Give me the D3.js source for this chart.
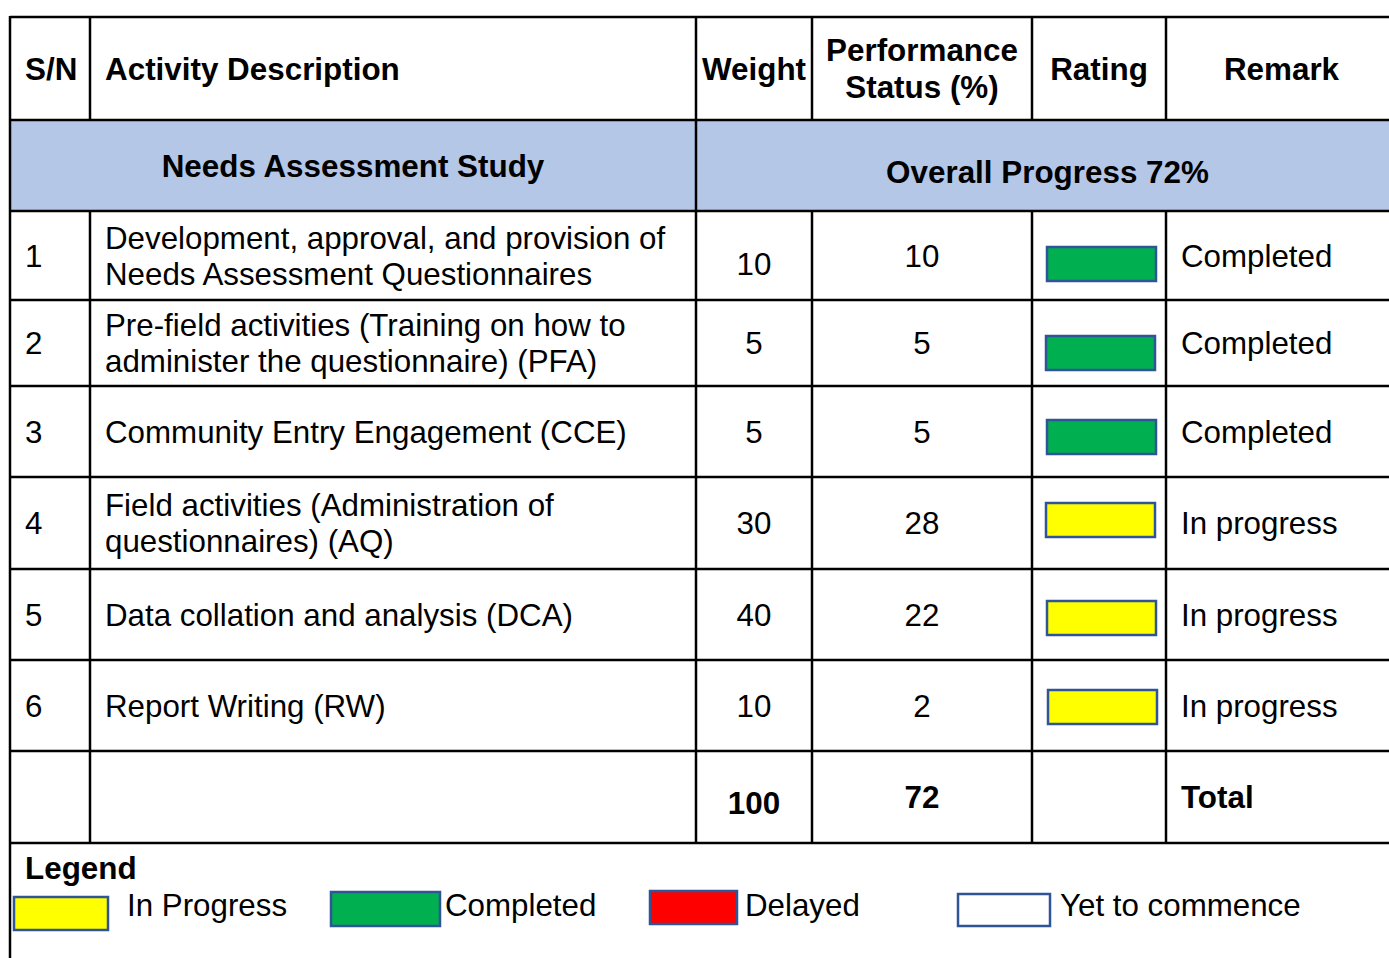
<!DOCTYPE html>
<html>
<head>
<meta charset="utf-8">
<script src="https://cdn.jsdelivr.net/npm/d3@7"></script>
<style>
  body { margin: 0; background: #fff; }
  text { font-family: "Liberation Sans", Arial, sans-serif; fill: #000; }
</style>
</head>
<body>
<div id="chart"></div>
<script>
// table content
const headers = [["S/N"], ["Activity Description"], ["Weight"], ["Performance", "Status (%)"], ["Rating"], ["Remark"]];
const sectionTitle = "Needs Assessment Study";
const serialNos = ["1", "2", "3", "4", "5", "6"];
const activities = [
  ["Development, approval, and provision of", "Needs Assessment Questionnaires"],
  ["Pre-field activities (Training on how to", "administer the questionnaire) (PFA)"],
  ["Community Entry Engagement (CCE)"],
  ["Field activities (Administration of", "questionnaires) (AQ)"],
  ["Data collation and analysis (DCA)"],
  ["Report Writing (RW)"]
];
const weights = [10, 5, 5, 30, 40, 10];
const performance = [10, 5, 5, 28, 22, 2];
const statuses = ["Completed", "Completed", "Completed", "In Progress", "In Progress", "In Progress"];
const remarks = ["Completed", "Completed", "Completed", "In progress", "In progress", "In progress"];
const legendKeys = ["In Progress", "Completed", "Delayed", "Yet to commence"];
const legendColors = ["#ffff00", "#00b050", "#ff0000", "#ffffff"];

const W = 1389, H = 958;
// layout: column and row edges
const colEdges = [10, 90, 696, 812, 1032, 1166, 1399];
const rowEdges = [17, 120, 211, 300, 386, 477, 569, 660, 751, 843];
// rating boxes sit a little off the row centre in the original
const ratingShift = [8.5, 10, 5.5, -3, 3.5, 1.5];
const ratingX = [1047, 1046, 1047, 1046, 1047, 1048];
const fs = 31.3;
const fsb = 31.4;

const color = d3.scaleOrdinal(legendKeys, legendColors);
const rowCenter = i => (rowEdges[i] + rowEdges[i + 1]) / 2;
const colCenter = j => (colEdges[j] + colEdges[j + 1]) / 2;

const svg = d3.select('#chart').append('svg')
  .attr('width', W)
  .attr('height', H);

// section band
svg.append('rect')
  .attr('x', colEdges[0]).attr('y', rowEdges[1])
  .attr('width', colEdges[6] - colEdges[0]).attr('height', rowEdges[2] - rowEdges[1])
  .attr('fill', '#b4c7e7');

// header
headers.forEach((h, j) => {
  const t = svg.append('text')
    .attr('font-size', fsb).attr('font-weight', 'bold')
    .attr('text-anchor', j === 0 || j === 1 ? 'start' : 'middle');
  const x = j === 0 ? 25 : j === 1 ? 105 : colCenter(j) + (j === 5 ? -1 : 0);
  h.forEach((line, k) => {
    t.append('tspan')
      .attr('x', x)
      .attr('y', rowCenter(0) + (k - (h.length - 1) / 2) * 37 + 11)
      .text(line);
  });
});

svg.append('text')
  .attr('x', (colEdges[0] + colEdges[2]) / 2).attr('y', 166 + 11)
  .attr('text-anchor', 'middle').attr('font-size', fsb).attr('font-weight', 'bold')
  .text(sectionTitle);

svg.append('text')
  .attr('x', (colEdges[2] + colEdges[6]) / 2).attr('y', 172 + 11)
  .attr('text-anchor', 'middle').attr('font-size', fsb).attr('font-weight', 'bold')
  .text(`Overall Progress ${d3.sum(performance)}%`);

// data rows
const rows = svg.selectAll('.row')
  .data(serialNos.map((s, i) => ({ s, act: activities[i], w: weights[i], p: performance[i], st: statuses[i], r: remarks[i], i })))
  .join('g')
  .attr('class', 'row');

rows.each(function (d) {
  const g = d3.select(this);
  const cy = rowCenter(d.i + 2);
  g.append('text').attr('x', 25).attr('y', cy + 11).attr('font-size', fs).text(d.s);
  const t = g.append('text').attr('font-size', fs);
  d.act.forEach((line, k) => {
    t.append('tspan')
      .attr('x', 105)
      .attr('y', cy + (k - (d.act.length - 1) / 2) * 36 + 11)
      .text(line);
  });
  g.append('text').attr('x', colCenter(2)).attr('y', cy + 11 + (d.i === 0 ? 8 : 0))
    .attr('text-anchor', 'middle').attr('font-size', fs).text(d.w);
  g.append('text').attr('x', colCenter(3)).attr('y', cy + 11)
    .attr('text-anchor', 'middle').attr('font-size', fs).text(d.p);
  g.append('rect')
    .attr('x', ratingX[d.i]).attr('y', cy + ratingShift[d.i] - 17)
    .attr('width', 109).attr('height', 34)
    .attr('fill', color(d.st))
    .attr('stroke', '#2f5597').attr('stroke-width', 2.5);
  g.append('text').attr('x', 1181).attr('y', cy + 11).attr('font-size', fs).text(d.r);
});

// totals
const ty = rowCenter(8);
svg.append('text').attr('x', colCenter(2)).attr('y', ty + 6 + 11)
  .attr('text-anchor', 'middle').attr('font-size', fsb).attr('font-weight', 'bold')
  .text(d3.sum(weights));
svg.append('text').attr('x', colCenter(3)).attr('y', ty + 11)
  .attr('text-anchor', 'middle').attr('font-size', fsb).attr('font-weight', 'bold')
  .text(d3.sum(performance));
svg.append('text').attr('x', 1181).attr('y', ty + 11)
  .attr('font-size', fsb).attr('font-weight', 'bold')
  .text('Total');

// grid lines
const grid = svg.append('g').attr('stroke', '#000').attr('stroke-width', 2.5);
rowEdges.forEach(y => {
  grid.append('line').attr('x1', colEdges[0]).attr('x2', colEdges[6]).attr('y1', y).attr('y2', y);
});
grid.append('line').attr('x1', colEdges[0]).attr('x2', colEdges[0]).attr('y1', rowEdges[0] - 1).attr('y2', H);
grid.append('line').attr('x1', colEdges[2]).attr('x2', colEdges[2]).attr('y1', rowEdges[0]).attr('y2', rowEdges[9]);
[1, 3, 4, 5, 6].forEach(j => {
  grid.append('line').attr('x1', colEdges[j]).attr('x2', colEdges[j]).attr('y1', rowEdges[0]).attr('y2', rowEdges[1]);
  grid.append('line').attr('x1', colEdges[j]).attr('x2', colEdges[j]).attr('y1', rowEdges[2]).attr('y2', rowEdges[9]);
});

// legend
svg.append('text').attr('x', 25).attr('y', 868 + 11)
  .attr('font-size', fsb).attr('font-weight', 'bold').text('Legend');

const legendBoxes = [
  { x: 14, y: 897, w: 94, h: 33, tx: 127 },
  { x: 331, y: 892, w: 109, h: 34, tx: 445 },
  { x: 650, y: 891, w: 87, h: 33, tx: 745 },
  { x: 958, y: 894, w: 92, h: 32, tx: 1060 }
];
const legend = svg.selectAll('.legend-item')
  .data(legendKeys)
  .join('g')
  .attr('class', 'legend-item');
legend.append('rect')
  .attr('x', (d, i) => legendBoxes[i].x).attr('y', (d, i) => legendBoxes[i].y)
  .attr('width', (d, i) => legendBoxes[i].w).attr('height', (d, i) => legendBoxes[i].h)
  .attr('fill', d => color(d))
  .attr('stroke', '#2f5597').attr('stroke-width', 2.5);
legend.append('text')
  .attr('x', (d, i) => legendBoxes[i].tx).attr('y', 905 + 11)
  .attr('font-size', fs)
  .text(d => d);
</script>
</body>
</html>
